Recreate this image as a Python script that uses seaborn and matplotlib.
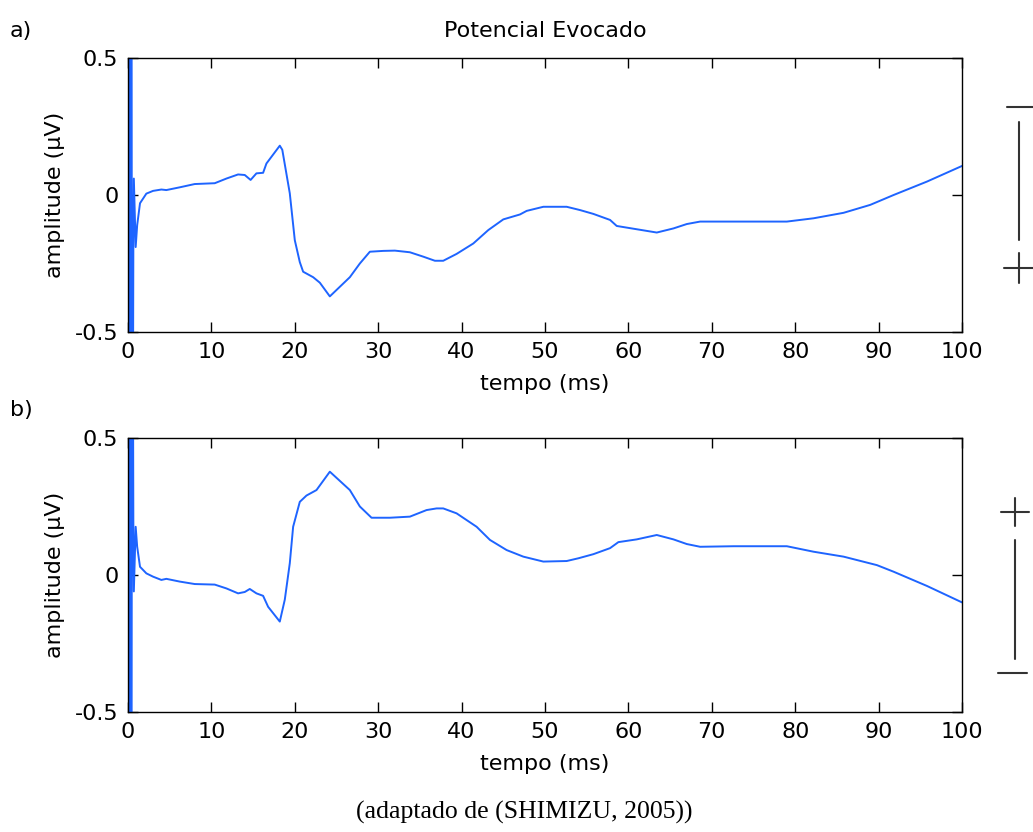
import matplotlib
matplotlib.use("Agg")
import matplotlib.pyplot as plt
from matplotlib.lines import Line2D
import seaborn as sns
import pandas as pd

# ---- data ----
t_a = [0.0, 0.1, 0.2, 0.3, 0.4, 0.5, 0.64, 0.70, 0.92, 1.1, 1.44, 2.2, 3.0, 4.0, 4.6,
       6.2, 8.0, 10.4, 11.8, 13.2, 14.0, 14.7, 15.4, 16.2, 16.6, 18.2, 18.5, 19.4,
       20.0, 20.6, 21.0, 22.2, 23.0, 24.2, 26.6, 27.8, 29.0, 30.6, 32.0, 33.8, 35.4,
       36.8, 37.8, 39.4, 41.4, 43.2, 45.0, 47.0, 47.8, 49.8, 51.8, 52.6, 54.2, 55.8,
       57.8, 58.6, 61.0, 63.4, 65.4, 67.0, 68.6, 72.6, 79.0, 82.2, 85.8, 89.0, 91.8,
       95.8, 100.0]
v_a = [0.0, -2.0, 2.0, -2.0, 2.0, -2.0, -0.20, 0.06, -0.19, -0.11, -0.03, 0.005, 0.015,
       0.02, 0.018, 0.028, 0.04, 0.043, 0.06, 0.075, 0.073, 0.055, 0.079, 0.081, 0.115,
       0.18, 0.165, 0.006, -0.165, -0.245, -0.28, -0.30, -0.32, -0.37, -0.30, -0.25,
       -0.207, -0.204, -0.203, -0.209, -0.225, -0.24, -0.24, -0.215, -0.177, -0.128,
       -0.089, -0.071, -0.058, -0.043, -0.043, -0.043, -0.055, -0.069, -0.091, -0.113,
       -0.125, -0.137, -0.122, -0.106, -0.097, -0.097, -0.097, -0.085, -0.065, -0.036,
       0.0, 0.049, 0.106]

t_b = [0.0, 0.1, 0.2, 0.3, 0.4, 0.5, 0.64, 0.70, 0.92, 1.1, 1.44, 2.2, 3.0, 4.0, 4.6,
       6.2, 8.0, 10.4, 11.8, 13.2, 14.0, 14.6, 15.4, 16.2, 16.8, 18.2, 18.8, 19.4,
       19.8, 20.6, 21.4, 22.6, 24.2, 26.6, 27.8, 29.2, 31.4, 33.8, 35.8, 37.0, 37.8,
       39.4, 41.8, 43.4, 45.4, 47.4, 49.8, 52.6, 54.0, 55.8, 57.8, 58.8, 61.0, 63.4,
       65.4, 67.0, 68.6, 72.6, 79.0, 82.2, 85.8, 89.8, 91.8, 95.8, 100.0]
v_b = [0.0, 2.0, -2.0, 2.0, -2.0, 2.0, 0.20, -0.06, 0.176, 0.103, 0.03, 0.006, -0.006,
       -0.018, -0.014, -0.024, -0.033, -0.035, -0.049, -0.067, -0.062, -0.051, -0.067,
       -0.076, -0.116, -0.17, -0.09, 0.043, 0.176, 0.267, 0.29, 0.31, 0.377, 0.31, 0.25,
       0.209, 0.209, 0.213, 0.237, 0.243, 0.243, 0.225, 0.176, 0.128, 0.091, 0.067,
       0.049, 0.051, 0.061, 0.076, 0.098, 0.12, 0.13, 0.146, 0.13, 0.113, 0.103, 0.105,
       0.105, 0.085, 0.067, 0.036, 0.012, -0.04, -0.10]

x_ticks = [0, 10, 20, 30, 40, 50, 60, 70, 80, 90, 100]
y_ticks = [-0.5, 0, 0.5]
y_tick_labels = ["-0.5", "0", "0.5"]

title = "Potencial Evocado"
xlabel = "tempo (ms)"
ylabel = "amplitude (\u03bcV)"
caption = "(adaptado de (SHIMIZU, 2005))"

# ---- style ----
sns.set_style("ticks")
plt.rcParams["font.family"] = ["DejaVu Sans"]
plt.rcParams["axes.unicode_minus"] = False
for k in ("text.color", "axes.labelcolor", "xtick.color", "ytick.color", "axes.edgecolor"):
    plt.rcParams[k] = "black"

W, H = 1033, 832
fig = plt.figure(figsize=(W / 100, H / 100), dpi=100)
fig.patch.set_facecolor("white")

def ax_rect(left, top, right, bottom):
    return [left / W, 1 - bottom / H, (right - left) / W, (bottom - top) / H]

ax1 = fig.add_axes(ax_rect(128, 58, 962, 332))
ax2 = fig.add_axes(ax_rect(128, 438, 962, 712))

line_color = "#1e64ff"
df_a = pd.DataFrame({"t": t_a, "v": v_a})
df_b = pd.DataFrame({"t": t_b, "v": v_b})
sns.lineplot(data=df_a, x="t", y="v", ax=ax1, color=line_color, linewidth=1.4,
             estimator=None, sort=False)
sns.lineplot(data=df_b, x="t", y="v", ax=ax2, color=line_color, linewidth=1.4,
             estimator=None, sort=False)

for ax in (ax1, ax2):
    ax.set_xlim(0, 100)
    ax.set_ylim(-0.5, 0.5)
    ax.set_xticks(x_ticks)
    ax.set_xticklabels([str(v) for v in x_ticks])
    ax.set_yticks(y_ticks)
    ax.set_yticklabels(y_tick_labels)
    ax.tick_params(direction="in", length=7, width=1, top=True, right=True,
                   labelsize=16, pad=7, colors="black")
    for s in ax.spines.values():
        s.set_visible(True)
        s.set_color("black")
        s.set_linewidth(1.0)
    ax.set_xlabel(xlabel, fontsize=16, labelpad=9, color="black")
    ax.set_ylabel(ylabel, fontsize=16, labelpad=7, color="black")
    ax.set_facecolor("white")

ax1.set_title(title, fontsize=16, pad=15, color="black")

fig.text(10 / W, 1 - 31 / H, "a)", fontsize=16, ha="left", va="center", color="black")
fig.text(10 / W, 1 - 410 / H, "b)", fontsize=16, ha="left", va="center", color="black")
fig.text(524 / W, 1 - 812 / H, caption, fontsize=18.5, ha="center", va="center",
         color="black", family=["Liberation Serif", "DejaVu Serif"])

# ---- polarity symbols on the right ----
def seg(x0, y0, x1, y1):
    fig.add_artist(Line2D([x0 / W, x1 / W], [1 - y0 / H, 1 - y1 / H],
                          transform=fig.transFigure, color="#333333", linewidth=1.5))

# top panel: minus, bar, plus
seg(1007, 107, 1033, 107)
seg(1019, 122, 1019, 240)
seg(1004, 268, 1033, 268)
seg(1019, 253, 1019, 283)
# bottom panel: plus, bar, minus
seg(1001, 512, 1029, 512)
seg(1015, 498, 1015, 526)
seg(1015, 540, 1015, 659)
seg(998, 673, 1027, 673)

fig.savefig("out.png", dpi=100, facecolor="white")
